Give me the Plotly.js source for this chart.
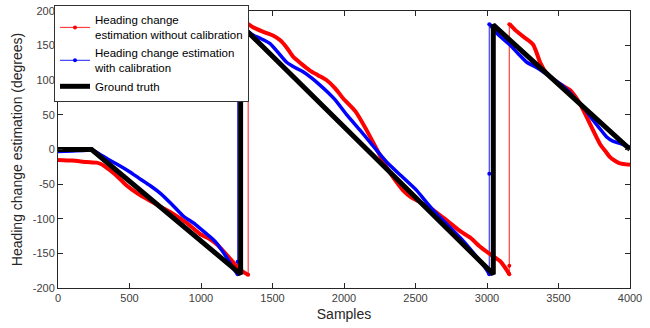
<!DOCTYPE html>
<html><head><meta charset="utf-8">
<script src="https://cdn.plot.ly/plotly-3.0.1.min.js"></script>
<style>html,body{margin:0;padding:0;background:#fff}#chart{width:650px;height:328px}</style>
</head><body><div id="chart"></div>
<script>
// Estimation without calibration (red), segments separated by null
const redX = [0,100,200,270,300,364,420,480,560,643,720,806,900,993,1050,1110,1170,1226,1260,1290,1330,null,
  1331,1360,1436,1500,1552,1600,1644,1700,1762,1820,1879,1940,1993,2080,2158,2230,2298,2360,2413,2470,2531,2590,2648,2710,2764,2820,2881,2950,3021,3091,3125,3156,null,
  3158,3200,3254,3300,3324,3350,3371,3417,3487,3530,3580,3620,3650,3690,3720,3790,3830,3860,3900,3930,4000];
const redY = [-15,-16,-18,-19,-21,-30,-40,-52,-64,-74,-83,-93,-106,-122,-128,-137,-150,-163,-172,-176,-181,null,
  181,177,170,165,158,147,134,124,114,107,100,88,74,55,28,0,-26,-45,-59,-69,-76,-83,-91,-101,-110,-119,-127,-140,-151,-161,-170,-180,null,
  181,172,163,156,151,138,126,110,97,92,86,76,66,50,37,8,-3,-11,-17,-20,-22];
// Red wrap-around transitions
const redJumpX = [1330,1330,null,3156,3156,3156];
const redJumpY = [-181,181,null,-180,-168,181];

// Estimation with calibration (blue)
const blueX = [0,100,200,235,300,350,410,500,570,643,720,800,876,960,1040,1100,1180,1220,1256,null,
  1258,1273,1320,1366,1420,1483,1540,1599,1660,1716,1775,1832,1890,1937,2020,2112,2200,2298,2400,2508,2580,2648,2730,2811,2880,2951,2985,3016,null,
  3018,3068,3110,3161,3220,3278,3340,3394,3450,3510,3570,3627,3690,3743,3790,3837,3880,3930,4000];
const blueY = [-3,-2,-1,0,-8,-14,-21,-32,-42,-52,-64,-80,-96,-108,-122,-133,-156,-170,-180,null,
  178,177,171,165,160,153,140,126,118,112,103,93,82,72,50,28,6,-18,-38,-59,-77,-93,-110,-127,-143,-161,-170,-180,null,
  181,168,160,151,138,126,119,112,104,95,84,71,57,42,30,18,12,9,3];
const blueJumpX = [1256,1256,1256,null,3016,3016,3016];
const blueJumpY = [-180,-162,178,null,-180,-35,181];

// Ground truth (black)
const truthX = [0,235,1277,1277,3044,3044,4000];
const truthY = [0,0,-180,180,-180,180,0];

const xTicks = [0,500,1000,1500,2000,2500,3000,3500,4000];
const yTicks = [-200,-150,-100,-50,0,50,100,150,200];

const traces = [
  {x: redJumpX, y: redJumpY, type:'scatter', mode:'lines+markers', name:'Heading change<br>estimation without calibration',
   line:{color:'rgba(255,0,0,0.75)', width:1.2}, marker:{color:'#ff0000', size:4}, connectgaps:false},
  {x: blueJumpX, y: blueJumpY, type:'scatter', mode:'lines+markers', name:'Heading change estimation<br>with calibration',
   line:{color:'rgba(0,0,255,0.75)', width:1.2}, marker:{color:'#0000ff', size:4}, connectgaps:false},
  {x: redX, y: redY, type:'scatter', mode:'lines', showlegend:false, line:{color:'#ff0000', width:4, shape:'spline', smoothing:0.6}, connectgaps:false},
  {x: blueX, y: blueY, type:'scatter', mode:'lines', showlegend:false, line:{color:'#0000ff', width:3.5, shape:'spline', smoothing:0.6}, connectgaps:false},
  {x: truthX, y: truthY, type:'scatter', mode:'lines', name:'Ground truth', line:{color:'#000000', width:5}}
];

const axisCommon = {
  showgrid:false, zeroline:false, showline:true, linecolor:'#262626', linewidth:1,
  mirror:'ticks', ticks:'inside', ticklen:5, tickcolor:'#262626',
  tickfont:{family:'Liberation Sans, Arial, sans-serif', size:11, color:'#404040'}
};

const layout = {
  width:650, height:328,
  margin:{l:58, r:20, t:11, b:40, autoexpand:false},
  paper_bgcolor:'#ffffff', plot_bgcolor:'#ffffff',
  font:{family:'Liberation Sans, Arial, sans-serif'},
  xaxis: Object.assign({}, axisCommon, {range:[0,4000], tickvals:xTicks, ticktext:xTicks.map(String),
    title:{text:'Samples', font:{size:14, color:'#262626'}, standoff:5}}),
  yaxis: Object.assign({}, axisCommon, {range:[-200,200], tickvals:yTicks, ticktext:yTicks.map(String),
    title:{text:'Heading change estimation (degrees)', font:{size:14, color:'#262626'}, standoff:6}}),
  legend:{x:-4/572, y:1+6/277, xanchor:'left', yanchor:'top',
    bgcolor:'#ffffff', bordercolor:'#333333', borderwidth:1,
    font:{size:11.5, color:'#000000'}, tracegroupgap:0},
  showlegend:true
};

Plotly.newPlot('chart', traces, layout, {staticPlot:true, displayModeBar:false});
</script></body></html>
